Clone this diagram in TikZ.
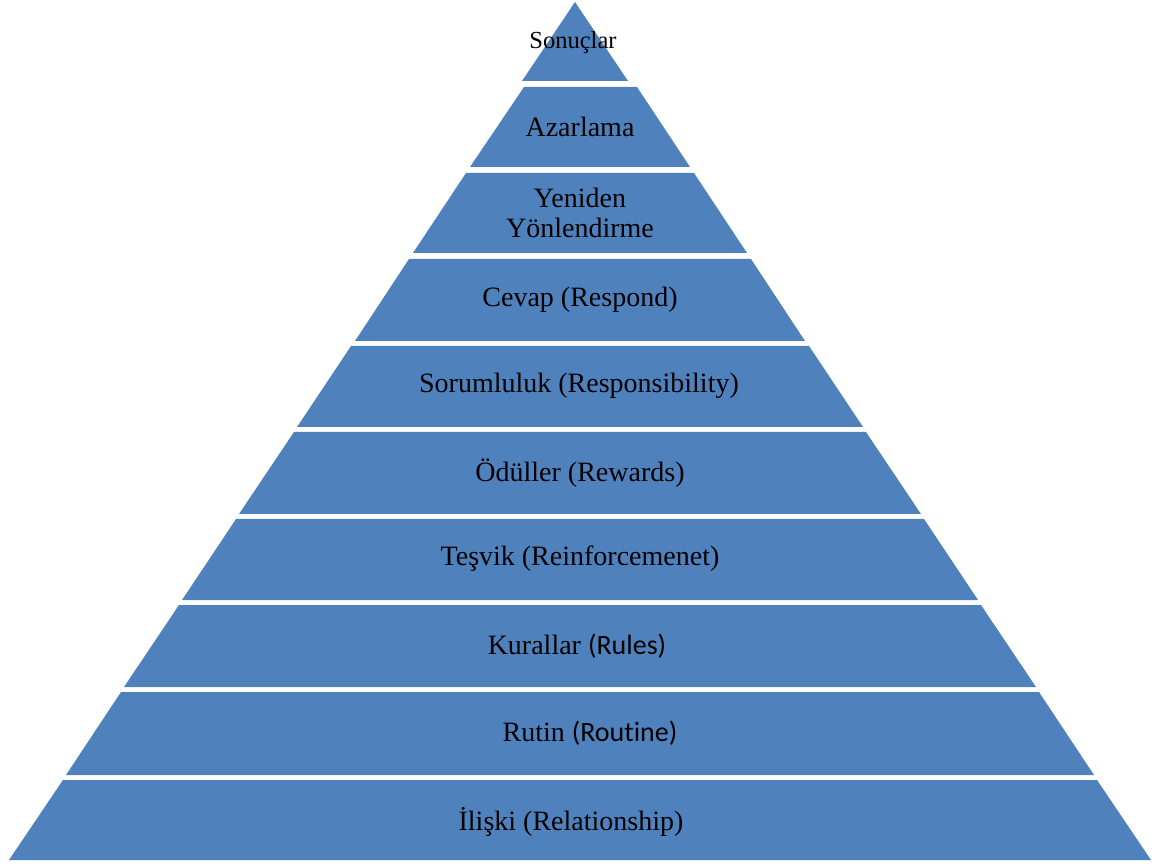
\documentclass[tikz,border=0pt]{standalone}
\usepackage{fontspec}
\setmainfont{Liberation Serif}
\newfontfamily\calibri[Ligatures=NoCommon]{Carlito}
\usepackage{tikz}
\definecolor{layerblue}{RGB}{79,129,189}

\begin{document}
\begin{tikzpicture}[x=1pt,y=-1pt,font=\fontsize{28}{30}\selectfont,
		layer/.style={fill=layerblue},
		lbl/.style={text=black,align=center,inner sep=0pt}]
		\useasboundingbox (0,0) rectangle (1160,866);
		%
		\fill[layer] (575,2) -- (628,81) -- (522,81) -- cycle;
		\fill[layer] (524,87) -- (637,87) -- (690,167) -- (470,167) -- cycle;
		\fill[layer] (466,173) -- (694,173) -- (747,253) -- (413,253) -- cycle;
		\fill[layer] (409,259) -- (751,259) -- (805,341) -- (355,341) -- cycle;
		\fill[layer] (351,346) -- (809,346) -- (863,427) -- (297,427) -- cycle;
		\fill[layer] (294,432) -- (866,432) -- (921,514) -- (239,514) -- cycle;
		\fill[layer] (236,519) -- (924,519) -- (978,600) -- (182,600) -- cycle;
		\fill[layer] (179,605) -- (981,605) -- (1036,687) -- (124,687) -- cycle;
		\fill[layer] (121,692) -- (1039,692) -- (1094,775) -- (66,775) -- cycle;
		\fill[layer] (63,780) -- (1097,780) -- (1151,860) -- (9,860) -- cycle;
		%
		\node[lbl,font=\fontsize{24.5}{28}\selectfont] (A) at (573,43) {Sonuçlar};
		\node[lbl] (B) at (580,127) {Azarlama};
		\node[lbl] (C) at (580,213) {Yeniden\\Yönlendirme};
		\node[lbl] (D) at (580,300) {Cevap (Respond)};
		\node[lbl] (E) at (579,386) {Sorumluluk (Responsibility)};
		\node[lbl] (F) at (580,473) {Ödüller (Rewards)};
		\node[lbl] (G) at (580,559) {Teşvik (Reinforcemenet)};
		\node[lbl] (H) at (577,646) {Kurallar {\calibri(Rules)}};
		\node[lbl] (I) at (590,733) {Rutin {\calibri(Routine)}};
		\node[lbl] (J) at (571,822) {İlişki (Relationship)};
\end{tikzpicture}
\end{document}
